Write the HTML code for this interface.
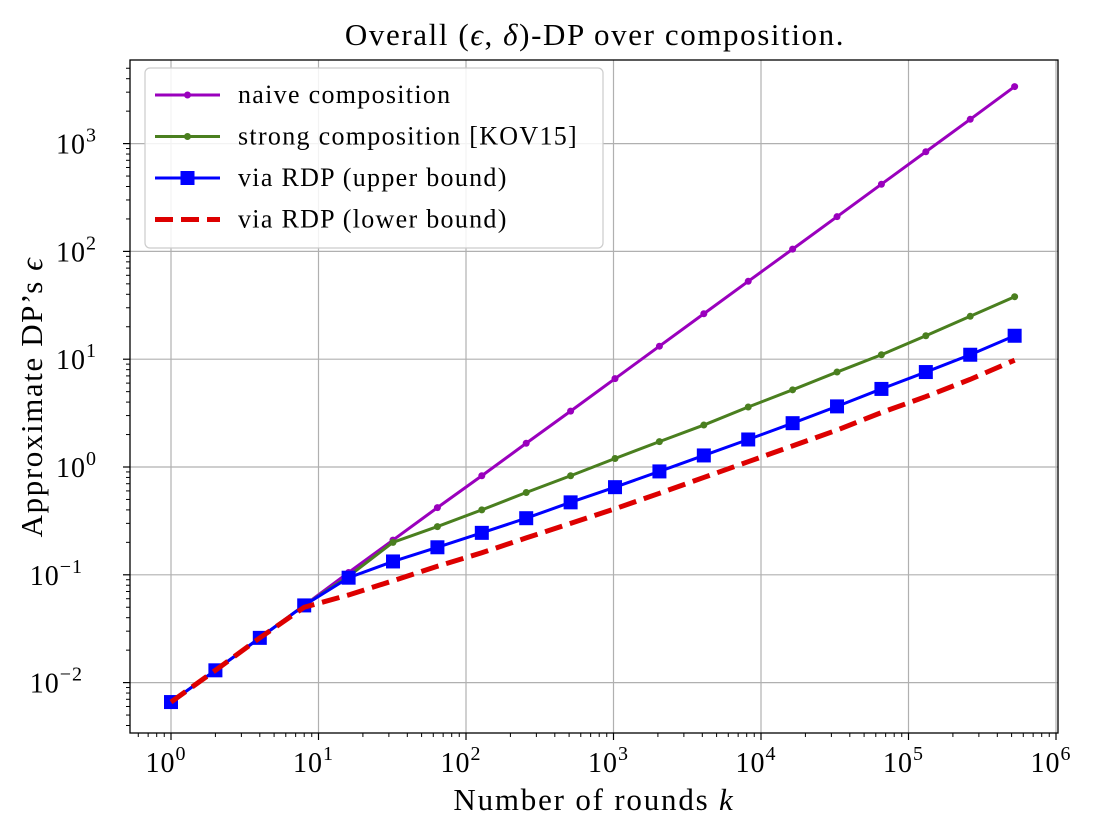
<!DOCTYPE html>
<html><head><meta charset="utf-8"><style>
body{margin:0;background:#fff;}
svg text{font-family:"Liberation Serif","DejaVu Serif",serif;fill:#000;}
</style></head><body>
<svg id="chart" width="1094" height="833" xmlns="http://www.w3.org/2000/svg">
<g id="grid"></g>
<g id="series"></g>
<g id="axes"></g>
<text x="595" y="45" font-size="31" letter-spacing="1.6" text-anchor="middle">Overall (<tspan font-style="italic">ϵ</tspan>, <tspan font-style="italic">δ</tspan>)-DP over composition.</text>
<text x="594" y="810" font-size="31" letter-spacing="1.8" text-anchor="middle">Number of rounds <tspan font-style="italic">k</tspan></text>
<text transform="translate(42,397) rotate(-90)" font-size="31" letter-spacing="1.6" text-anchor="middle">Approximate DP’s <tspan font-style="italic">ϵ</tspan></text>
<g id="legend"></g>
</svg>
<script>
const ks=[1,2,4,8,16,32,64,128,256,512,1024,2048,4096,8192,16384,32768,65536,131072,262144,524288];
const naive=[0.0066,0.013,0.026,0.052,0.105,0.21,0.42,0.83,1.66,3.3,6.6,13.2,26.4,52.8,105,210,420,840,1680,3380];
const strong=[0.0066,0.013,0.026,0.052,0.097,0.2,0.28,0.4,0.58,0.83,1.2,1.72,2.45,3.6,5.2,7.6,11,16.5,25,38];
const upper=[0.0066,0.013,0.026,0.052,0.094,0.133,0.18,0.245,0.335,0.47,0.65,0.91,1.28,1.8,2.55,3.65,5.3,7.6,11,16.5];
const lower=[0.0066,0.013,0.026,0.05,0.065,0.088,0.12,0.16,0.22,0.3,0.41,0.57,0.8,1.12,1.57,2.2,3.2,4.5,6.5,9.8];
const xTickExp=[0,1,2,3,4,5,6];
const yTickExp=[-2,-1,0,1,2,3];
const NS="http://www.w3.org/2000/svg";
const L=130,R=1058,T=60,B=733;
const X=v=>171+147.5*Math.log10(v);
const Y=v=>467-107.8*Math.log10(v);
function mk(tag,attrs,parent){const e=document.createElementNS(NS,tag);for(const k in attrs)e.setAttribute(k,attrs[k]);parent.appendChild(e);return e;}
const grid=document.getElementById('grid'),axes=document.getElementById('axes'),ser=document.getElementById('series'),leg=document.getElementById('legend');
xTickExp.forEach(e=>{const x=X(Math.pow(10,e));
 if(x<=R){const g=mk('line',{x1:x,x2:x,y1:T,y2:B,stroke:'#b0b0b0','stroke-width':1.2},grid);}
 mk('line',{x1:x,x2:x,y1:B,y2:B+7,stroke:'#000','stroke-width':1.2},axes);
 const t=mk('text',{x:x-5,y:772,'font-size':28,'letter-spacing':1,'text-anchor':'middle'},axes);t.textContent='10';
 
 const s=mk('tspan',{dy:-12,'font-size':20},t);s.textContent=e;
 for(let m=2;m<10;m++){const xm=X(m*Math.pow(10,e));if(xm<R)mk('line',{x1:xm,x2:xm,y1:B,y2:B+4,stroke:'#000','stroke-width':1},axes);}
 for(let m=6;m<10;m++){const xm=X(m*Math.pow(10,-1));if(e==0&&xm>L)mk('line',{x1:xm,x2:xm,y1:B,y2:B+4,stroke:'#000','stroke-width':1},axes);}
});
yTickExp.forEach(e=>{const y=Y(Math.pow(10,e));
 const g=mk('line',{x1:L,x2:R,y1:y,y2:y,stroke:'#b0b0b0','stroke-width':1.2},grid);
 mk('line',{x1:L-7,x2:L,y1:y,y2:y,stroke:'#000','stroke-width':1.2},axes);
 const t=mk('text',{x:e<0?L-47:L-33,y:y+10,'font-size':28,'letter-spacing':1,'text-anchor':'end'},axes);t.textContent='10';
 
 const s=mk('tspan',{dy:-12,'font-size':20},t);s.textContent=(e<0?'−'+(-e):e);
});
for(let e=-3;e<4;e++)for(let m=2;m<10;m++){const y=Y(m*Math.pow(10,e));if(y>T&&y<B)mk('line',{x1:L-4,x2:L,y1:y,y2:y,stroke:'#000','stroke-width':1},axes);}
const fr=mk('rect',{x:L,y:T,width:R-L,height:B-T,fill:'none',stroke:'#000','stroke-width':1.3},axes);

function pts(v){return ks.map((k,i)=>X(k)+','+Y(v[i])).join(' ');}
function line(v,color,w,name,dash){const p=mk('polyline',{points:pts(v),fill:'none',stroke:color,'stroke-width':w},ser);if(dash)p.setAttribute('stroke-dasharray',dash);
 }
line(naive,'#9a00bd',3,'naive-line');
ks.forEach((k,i)=>{const c=mk('circle',{cx:X(k),cy:Y(naive[i]),r:3.5,fill:'#9a00bd'},ser);});
line(strong,'#4a7f1f',3,'strong-line');
ks.forEach((k,i)=>{const c=mk('circle',{cx:X(k),cy:Y(strong[i]),r:3.5,fill:'#4a7f1f'},ser);});
line(upper,'#0000ff',3,'upper-line');
ks.forEach((k,i)=>{const r=mk('rect',{x:X(k)-7,y:Y(upper[i])-7,width:14,height:14,fill:'#0000ff'},ser);});
line(lower,'#dd0000',5,'lower-line','18,8');
const lb=mk('rect',{x:145,y:68,width:458,height:180,rx:5,fill:'#fff','fill-opacity':0.85,stroke:'#ccc','stroke-width':1.2},leg);
const items=[['naive composition','#9a00bd','c'],['strong composition [KOV15]','#4a7f1f','c'],['via RDP (upper bound)','#0000ff','s'],['via RDP (lower bound)','#dd0000','d']];
items.forEach((it,i)=>{const y=95+i*41.5;const g=mk('g',{},leg);
 
 const l=mk('line',{x1:155,x2:220,y1:y,y2:y,stroke:it[1],'stroke-width':it[2]=='d'?5:3},g);
 if(it[2]=='d')l.setAttribute('stroke-dasharray','18,8');
 if(it[2]=='c')mk('circle',{cx:187.5,cy:y,r:3.5,fill:it[1]},g);
 if(it[2]=='s')mk('rect',{x:180.5,y:y-7,width:14,height:14,fill:it[1]},g);
 const t=mk('text',{x:238,y:y+8,'font-size':26,'letter-spacing':1.3},g);t.textContent=it[0];});
</script>
</body></html>
